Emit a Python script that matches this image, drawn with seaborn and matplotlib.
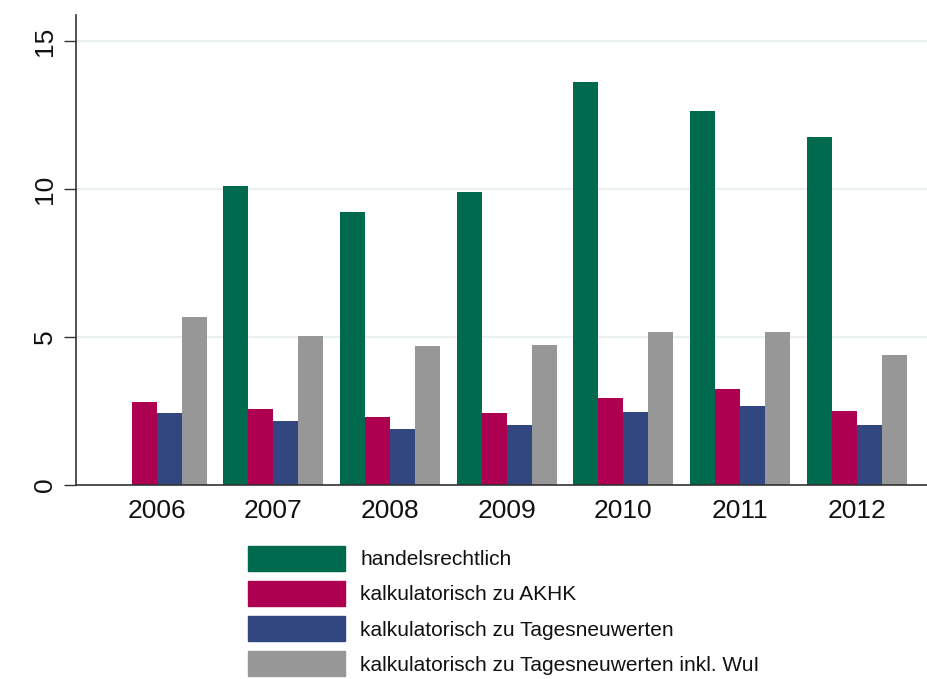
import numpy as np
import pandas as pd
import matplotlib
matplotlib.use('Agg')
import matplotlib.pyplot as plt
import seaborn as sns

# Daten
jahre = ['2006', '2007', '2008', '2009', '2010', '2011', '2012']
serien = ['handelsrechtlich',
          'kalkulatorisch zu AKHK',
          'kalkulatorisch zu Tagesneuwerten',
          'kalkulatorisch zu Tagesneuwerten inkl. WuI']
handelsrechtlich = [np.nan, 10.1, 9.22, 9.9, 13.6, 12.63, 11.76]
akhk = [2.8, 2.57, 2.3, 2.43, 2.94, 3.24, 2.5]
tagesneuwerte = [2.43, 2.16, 1.89, 2.03, 2.47, 2.67, 2.03]
tagesneuwerte_wui = [5.68, 5.03, 4.7, 4.73, 5.17, 5.17, 4.39]
farben = ['#006a4e', '#ad0050', '#324680', '#979797']

df = pd.DataFrame({
    'jahr': jahre * 4,
    'serie': [s for s in serien for _ in jahre],
    'wert': handelsrechtlich + akhk + tagesneuwerte + tagesneuwerte_wui,
})

sns.set_theme(style='white')
plt.rcParams['font.family'] = ['Liberation Sans', 'DejaVu Sans']
plt.rcParams['text.color'] = '#111111'
plt.rcParams['xtick.color'] = '#111111'
plt.rcParams['ytick.color'] = '#111111'

fig = plt.figure(figsize=(9.28, 6.79), dpi=100)
ax = fig.add_axes([76 / 928, 1 - 485 / 679, 1 - 76 / 928, (485 - 15) / 679])

sns.barplot(data=df, x='jahr', y='wert', hue='serie', hue_order=serien,
            palette=farben, width=0.857, gap=0, saturation=1,
            linewidth=0, ax=ax, legend=False)

ax.set_ylim(0, 15.88)
ax.set_xlim(-0.69, 6.61)
ax.set_yticks([0, 5, 10, 15])
ax.set_yticklabels(['0', '5', '10', '15'], rotation=90, va='center')
ax.yaxis.grid(True, color='#e8f0f1', linewidth=1.5)
ax.set_axisbelow(True)
ax.set_xlabel('')
ax.set_ylabel('')
ax.tick_params(axis='y', length=9, width=1, color='#333333', labelsize=19, left=True, pad=5)
ax.tick_params(axis='x', length=0, labelsize=19, pad=10)
for s in ['top', 'right']:
    ax.spines[s].set_visible(False)
for s in ['left', 'bottom']:
    ax.spines[s].set_color('#333333')
    ax.spines[s].set_linewidth(1.2)

handles = [plt.Rectangle((0, 0), 1, 1, color=c) for c in farben]
fig.legend(handles, serien, loc='upper left', bbox_to_anchor=(248 / 928, 1 - 546 / 679),
           frameon=False, fontsize=15, handlelength=4.66, handleheight=1.45,
           labelspacing=0.5, handletextpad=0.72, borderpad=0, borderaxespad=0)

fig.savefig('out.png', dpi=100)
